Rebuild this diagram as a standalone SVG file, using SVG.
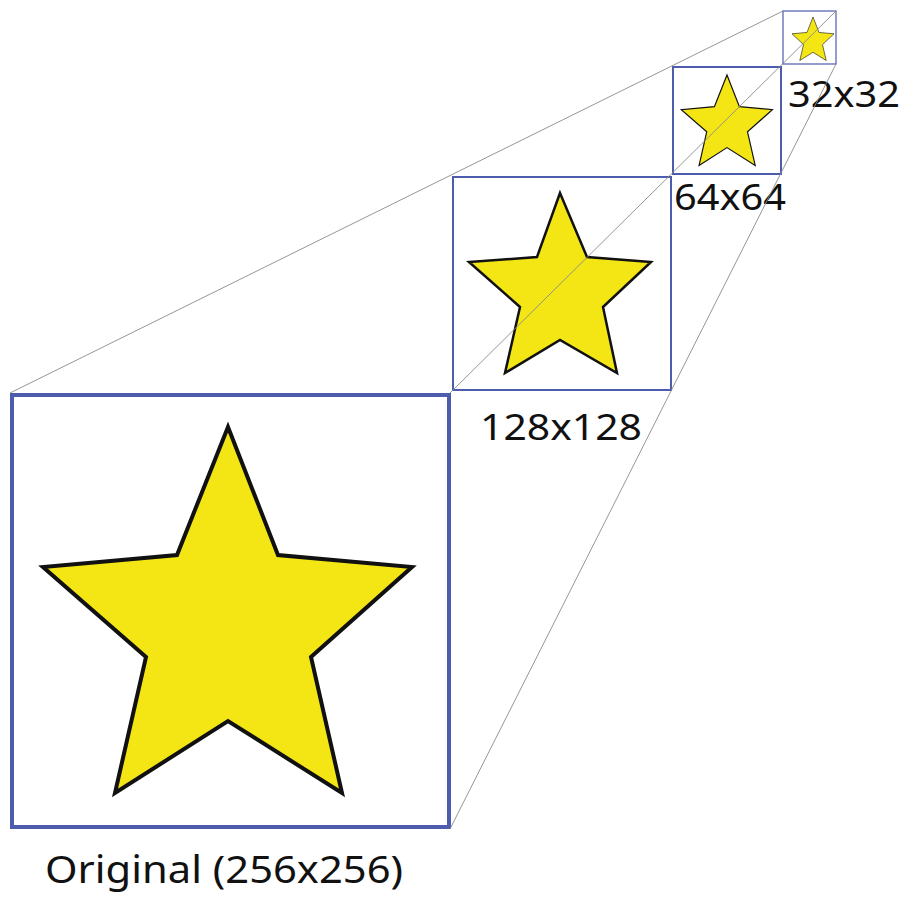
<svg xmlns="http://www.w3.org/2000/svg" width="908" height="897" viewBox="0 0 908 897">
  <style>
    .box { fill: none; stroke: #4e5cae; }
    .star { fill: #f4e614; stroke: #111; stroke-linejoin: miter; }
    .conn { stroke: #8a8a8a; stroke-width: 0.9; fill: none; }
    .lbl { font-family: "Noto Sans", "Open Sans", sans-serif; fill: #111; }
  </style>
  <rect width="908" height="897" fill="#ffffff"/>
  <g id="node-original">
    <polygon class="star" stroke-width="4" points="228,427 278,555 412,567 311,657 342,793 228,721 115,793 146,657 43,567 177,555"/>
    <rect class="box" stroke-width="4" x="12" y="395" width="437" height="432"/>
    <text class="lbl" x="45" y="883" font-size="38" textLength="358" lengthAdjust="spacingAndGlyphs">Original (256x256)</text>
  </g>
  <g id="node-128">
    <polygon class="star" stroke-width="2.5" points="560,193 587,257 651,262 603,307 617,373 560,340 505,373 520,307 469,262 537,257"/>
    <rect class="box" stroke-width="2" x="453" y="177" width="218" height="213"/>
    <text class="lbl" x="480" y="440" font-size="37" textLength="162" lengthAdjust="spacingAndGlyphs">128x128</text>
  </g>
  <g id="node-64">
    <polygon class="star" stroke-width="1.2" points="727,75 739.4,106.6 772.4,109.6 747.5,131.8 755.2,165.4 727,147.6 699.1,165.4 706.7,131.8 681.3,109.6 714.4,106.6"/>
    <rect class="box" stroke-width="2" x="673" y="67" width="108" height="107"/>
    <text class="lbl" x="674" y="210" font-size="37" textLength="112" lengthAdjust="spacingAndGlyphs">64x64</text>
  </g>
  <g id="node-32">
    <polygon class="star" stroke-width="0.6" stroke="#555" points="813,17 819,32.4 834,33.8 822.5,44.6 826.2,60.5 813,52.3 799.8,60.5 803.5,44.6 792,33.8 807,32.4"/>
    <rect class="box" stroke-width="1.2" stroke="#8088c4" x="783" y="11" width="53" height="53"/>
    <text class="lbl" x="788" y="107" font-size="37" textLength="112" lengthAdjust="spacingAndGlyphs">32x32</text>
  </g>
  <g id="connectors">
    <line class="conn" x1="10" y1="393" x2="783" y2="11"/>
    <line class="conn" x1="450" y1="393" x2="836" y2="11"/>
    <line class="conn" x1="450" y1="829" x2="836" y2="64"/>
  </g>
</svg>
